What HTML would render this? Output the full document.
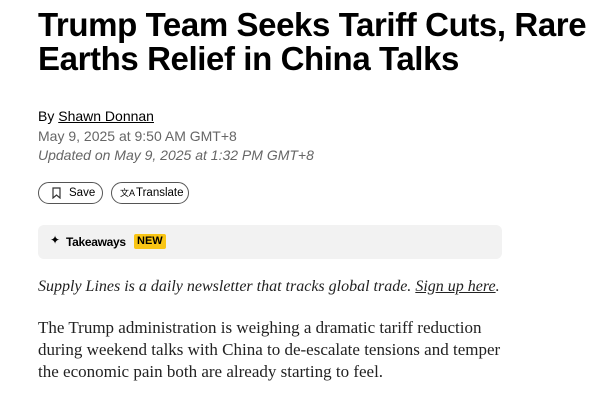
<!DOCTYPE html>
<html><head><meta charset="utf-8"><style>
body{margin:0;width:604px;height:402px;background:#fff;overflow:hidden;font-family:"Liberation Sans",sans-serif;color:#000;position:relative}
.a{position:absolute;left:38px;white-space:nowrap}
h1{position:absolute;left:38px;top:8px;margin:0;font-size:33px;line-height:34px;font-weight:bold;letter-spacing:-0.4px;white-space:nowrap}
.meta{font-size:14px;color:#666}
.btn{position:absolute;top:182px;height:22px;border:1px solid #555;border-radius:12px;box-sizing:border-box;font-size:11.5px;line-height:20px;padding-left:30px}
.box{position:absolute;left:38px;top:225px;width:464px;height:34px;background:#f2f2f2;border-radius:6px}
.serif{font-family:"Liberation Serif",serif;color:#222}
</style></head><body>
<h1>Trump Team Seeks Tariff Cuts, Rare<br>Earths Relief in China Talks</h1>
<div class="a" style="top:108px;font-size:14px">By <u>Shawn Donnan</u></div>
<div class="a meta" style="top:128px">May 9, 2025 at 9:50 AM GMT+8</div>
<div class="a meta" style="top:147px;font-style:italic">Updated on May 9, 2025 at 1:32 PM GMT+8</div>
<div class="btn" style="left:38px;width:65px">
<svg style="position:absolute;left:13px;top:4px" width="9" height="12"><path d="M1 1h7v10l-3.5-3-3.5 3z" fill="none" stroke="#333" stroke-width="1.2"/></svg>Save</div>
<div class="btn" style="left:111px;width:78px;padding-left:24px"><span style="position:absolute;left:8px;top:0;font-size:9px">文A</span>Translate</div>
<div class="box">
<span style="position:absolute;left:12px;top:8px;font-size:12px">✦</span>
<span style="position:absolute;left:28px;top:10px;font-size:12px;font-weight:bold;letter-spacing:-0.3px">Takeaways</span>
<span style="position:absolute;left:96px;top:9px;font-size:11px;font-weight:bold;background:#f9c515;padding:0 3px;border-radius:2px;line-height:15px">NEW</span>
</div>
<div class="a serif" style="top:278px;font-size:16px;font-style:italic">Supply Lines is a daily newsletter that tracks global trade. <u>Sign up here</u>.</div>
<div class="a serif" style="top:317px;font-size:17px;line-height:22px">The Trump administration is weighing a dramatic tariff reduction<br>during weekend talks with China to de-escalate tensions and temper<br>the economic pain both are already starting to feel.</div>
</body></html>
